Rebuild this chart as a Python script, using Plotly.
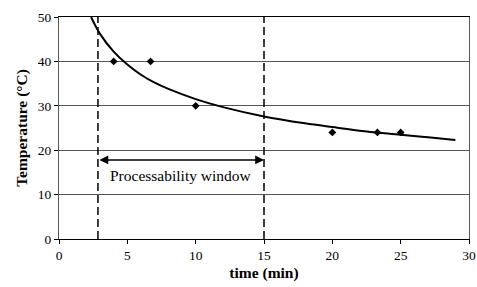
import plotly.graph_objects as go

# measured data points
time_pts = [4.0, 6.7, 10.0, 20.0, 23.3, 25.0]
temp_pts = [40, 40, 30, 24, 24, 24]

# trend curve
curve_t = [2.35, 3, 4, 5, 6, 7, 8, 10, 12, 15, 18, 20, 22, 25, 27, 29]
curve_T = [50, 46.2, 42.2, 39.3, 37.0, 35.2, 33.8, 31.5, 29.7, 27.6, 26.05, 25.2, 24.4, 23.5, 22.9, 22.3]

window_start = 2.85
window_end = 15
arrow_level = 17.8
label_t = 8.9
label_T = 14.2
x_ticks = [0, 5, 10, 15, 20, 25, 30]
y_ticks = [0, 10, 20, 30, 40, 50]

font = "Liberation Serif, Times New Roman, serif"

fig = go.Figure()
fig.add_trace(go.Scatter(x=curve_t, y=curve_T, mode="lines", line=dict(color="black", width=2, shape="spline"),
                         hoverinfo="skip", showlegend=False))
fig.add_trace(go.Scatter(x=time_pts, y=temp_pts, mode="markers",
                         marker=dict(symbol="diamond", size=6, color="black"), showlegend=False))
for xv in [window_start, window_end]:
    fig.add_trace(go.Scatter(x=[xv, xv], y=[0, 50], mode="lines",
                             line=dict(color="black", width=1.5, dash="8px,4px"), showlegend=False))

fig.add_annotation(x=window_end, y=arrow_level, ax=window_start, ay=arrow_level,
                   xref="x", yref="y", axref="x", ayref="y",
                   text="", showarrow=True, arrowhead=2, startarrowhead=2, arrowside="end+start",
                   arrowsize=1.1, arrowwidth=1.6, arrowcolor="black", standoff=0, startstandoff=0)
fig.add_annotation(x=label_t, y=label_T, xref="x", yref="y", text="Processability window", showarrow=False,
                   font=dict(family=font, size=15.5, color="black"))

fig.update_layout(
    width=477, height=287, margin=dict(l=59, r=8, t=17, b=48),
    paper_bgcolor="white", plot_bgcolor="white",
    font=dict(family=font, size=13, color="black"),
)
fig.update_xaxes(range=[0, 30], tickvals=x_ticks, ticks="outside", ticklen=4, tickcolor="black",
                 showline=True, linecolor="black", linewidth=1, mirror=True, showgrid=False, zeroline=False,
                 automargin=False,
                 title=dict(text="<b>time (min)</b>", font=dict(family=font, size=15.5), standoff=4),
                 tickfont=dict(family=font, size=13.5))
fig.update_yaxes(range=[0, 50], tickvals=y_ticks, ticks="outside", ticklen=4, tickcolor="black",
                 showline=True, linecolor="#555", linewidth=1, mirror=True, showgrid=True, gridcolor="#555",
                 gridwidth=1, zeroline=False, automargin=False,
                 title=dict(text="<b>Temperature (°C)</b>", font=dict(family=font, size=15.5), standoff=6),
                 tickfont=dict(family=font, size=13.5))

fig.write_html("out.html", config={"displayModeBar": False},
               post_script="document.body.style.margin='0';")
